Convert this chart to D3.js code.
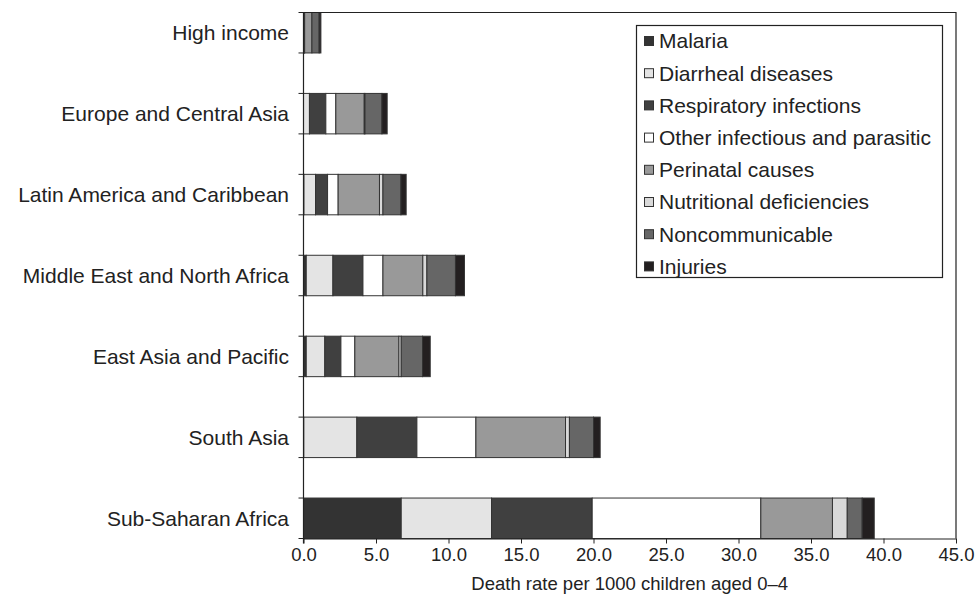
<!DOCTYPE html>
<html>
<head>
<meta charset="utf-8">
<script src="https://cdn.jsdelivr.net/npm/d3@7/dist/d3.min.js"></script>
<style>
  html, body { margin: 0; padding: 0; background: #fff; }
  svg { display: block; font-family: "Liberation Sans", Arial, sans-serif; }
</style>
</head>
<body>
<svg id="chart" width="977" height="594"></svg>
<script>
// Regions, top to bottom
const regions = [
  "High income",
  "Europe and Central Asia",
  "Latin America and Caribbean",
  "Middle East and North Africa",
  "East Asia and Pacific",
  "South Asia",
  "Sub-Saharan Africa"
];

// Cause-of-death categories (stack order, left to right)
const causes = [
  "Malaria",
  "Diarrheal diseases",
  "Respiratory infections",
  "Other infectious and parasitic",
  "Perinatal causes",
  "Nutritional deficiencies",
  "Noncommunicable",
  "Injuries"
];

// Death rate per 1000 children aged 0-4, one array per cause, in region order
const malaria       = [0.00, 0.00, 0.03, 0.19, 0.19, 0.02, 6.74];
const diarrheal     = [0.02, 0.41, 0.80, 1.84, 1.28, 3.66, 6.23];
const respiratory   = [0.03, 1.13, 0.83, 2.07, 1.11, 4.14, 6.94];
const otherInfect   = [0.03, 0.69, 0.73, 1.38, 0.96, 4.07, 11.63];
const perinatal     = [0.50, 1.96, 2.85, 2.75, 3.04, 6.18, 4.94];
const nutritional   = [0.00, 0.05, 0.24, 0.28, 0.16, 0.27, 1.02];
const noncomm       = [0.50, 1.17, 1.24, 1.97, 1.47, 1.66, 1.03];
const injuries      = [0.12, 0.36, 0.36, 0.62, 0.53, 0.46, 0.83];

const xTicks = [0, 5, 10, 15, 20, 25, 30, 35, 40, 45];
const xTitle = "Death rate per 1000 children aged 0\u20134";

const fills = ["#333333", "#e4e4e4", "#404040", "#ffffff", "#999999", "#d9d9d9", "#666666", "#231f20"];

const seriesValues = [malaria, diarrheal, respiratory, otherInfect, perinatal, nutritional, noncomm, injuries];
const rows = regions.map((r, i) => {
  const o = { region: r };
  causes.forEach((c, j) => { o[c] = seriesValues[j][i]; });
  return o;
});

const svg = d3.select("#chart");
const plotLeft = 303.5, plotRight = 956, plotTop = 12.5, plotBottom = 538.5;
const labelSize = 21, tickSize = 18.5;

const x = d3.scaleLinear().domain([0, 45]).range([plotLeft, plotRight]);
const y = d3.scaleBand().domain(regions).range([plotTop, plotBottom]).paddingInner(0.5).paddingOuter(0);
const color = d3.scaleOrdinal().domain(causes).range(fills);

const stacked = d3.stack().keys(causes)(rows);

// Stacked bars
svg.append("g")
  .selectAll("g")
  .data(stacked)
  .join("g")
  .attr("fill", d => color(d.key))
  .selectAll("rect")
  .data(d => d)
  .join("rect")
  .attr("x", d => x(d[0]))
  .attr("y", d => y(d.data.region))
  .attr("width", d => Math.max(0, x(d[1]) - x(d[0])))
  .attr("height", y.bandwidth())
  .attr("stroke", "#333")
  .attr("stroke-width", d => (d[1] - d[0]) > 0.001 ? 1 : 0);

// Frame: top and right edges
svg.append("path")
  .attr("d", `M${plotLeft},${plotTop}H${plotRight}V${plotBottom}`)
  .attr("fill", "none")
  .attr("stroke", "#222")
  .attr("stroke-width", 1.2);

// X axis
const xAxis = svg.append("g")
  .attr("transform", `translate(0,${plotBottom})`)
  .call(d3.axisBottom(x).tickValues(xTicks).tickFormat(d3.format(".1f")).tickSize(5).tickSizeOuter(0));
xAxis.select(".domain").attr("stroke", "#222").attr("stroke-width", 1.2);
xAxis.selectAll(".tick line").attr("stroke", "#222");
xAxis.selectAll(".tick text")
  .attr("font-size", tickSize)
  .attr("fill", "#222")
  .attr("y", 9)
  .attr("font-family", "Liberation Sans, Arial, sans-serif");

svg.append("text")
  .attr("x", (plotLeft + plotRight) / 2)
  .attr("y", 590)
  .attr("text-anchor", "middle")
  .attr("font-size", tickSize)
  .attr("fill", "#222")
  .text(xTitle);

// Y axis line and ticks at bar edges
const yAxisG = svg.append("g");
yAxisG.append("line")
  .attr("x1", plotLeft).attr("x2", plotLeft)
  .attr("y1", plotTop).attr("y2", plotBottom + 5)
  .attr("stroke", "#222").attr("stroke-width", 1.2);
const edges = [];
regions.forEach(r => { edges.push(y(r)); edges.push(y(r) + y.bandwidth()); });
yAxisG.selectAll("line.tick")
  .data(edges)
  .join("line")
  .attr("class", "tick")
  .attr("x1", plotLeft - 5).attr("x2", plotLeft)
  .attr("y1", d => d).attr("y2", d => d)
  .attr("stroke", "#222");

yAxisG.selectAll("text")
  .data(regions)
  .join("text")
  .attr("x", 289)
  .attr("y", d => y(d) + y.bandwidth() / 2)
  .attr("dy", "0.35em")
  .attr("text-anchor", "end")
  .attr("font-size", labelSize)
  .attr("fill", "#222")
  .text(d => d);

// Legend
const lg = svg.append("g");
lg.append("rect")
  .attr("x", 636.5).attr("y", 25.5)
  .attr("width", 306).attr("height", 252)
  .attr("fill", "#fff").attr("stroke", "#222").attr("stroke-width", 1.2);
const item = lg.selectAll("g.item")
  .data(causes)
  .join("g")
  .attr("class", "item")
  .attr("transform", (d, i) => `translate(0,${41 + i * 32.2})`);
item.append("rect")
  .attr("x", 644.5).attr("y", -4.5)
  .attr("width", 9).attr("height", 9)
  .attr("fill", d => color(d))
  .attr("stroke", "#333");
item.append("text")
  .attr("x", 659)
  .attr("dy", "0.35em")
  .attr("font-size", labelSize)
  .attr("fill", "#222")
  .text(d => d);
</script>
</body>
</html>
